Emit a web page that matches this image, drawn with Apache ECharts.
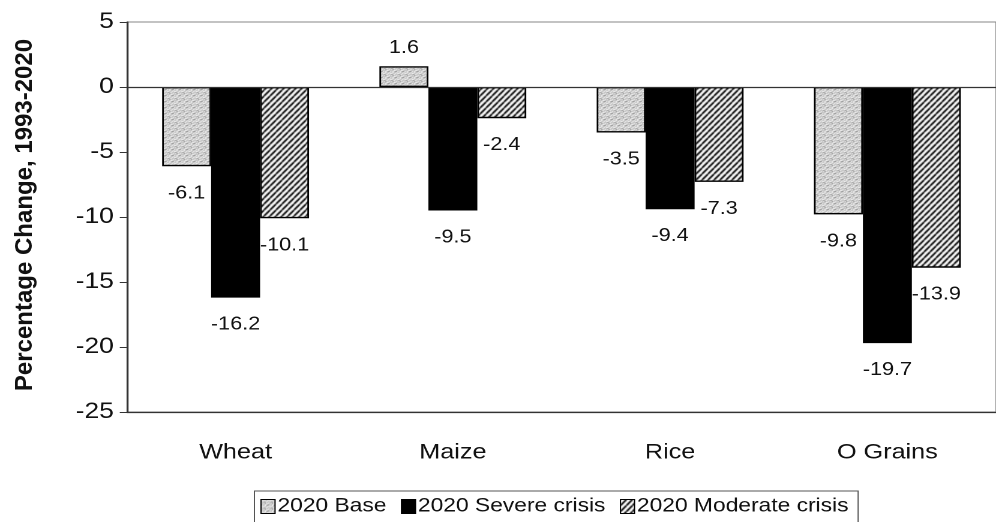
<!DOCTYPE html>
<html>
<head>
<meta charset="utf-8">
<script src="https://cdn.jsdelivr.net/npm/echarts@6/dist/echarts.min.js"></script>
<style>
  html, body { margin: 0; padding: 0; background: #fff; overflow: hidden; }
  /* the chart is laid out narrow and widened, giving the broad lettering */
  #chart { width: 830px; height: 522px; transform: scaleX(1.2); transform-origin: 0 0; }
</style>
</head>
<body>
<div id="chart"></div>
<script>
const categories = ['Wheat', 'Maize', 'Rice', 'O Grains'];
const seriesNames = ['2020 Base', '2020 Severe crisis', '2020 Moderate crisis'];
const baseValues = [-6.1, 1.6, -3.5, -9.8];
const severeValues = [-16.2, -9.5, -9.4, -19.7];
const moderateValues = [-10.1, -2.4, -7.3, -13.9];
const yTicks = [5, 0, -5, -10, -15, -20, -25];
const yTitle = 'Percentage Change, 1993-2020';

const WIDEN = 1.2;

// light grey stipple fill
function stipplePattern() {
  const c = document.createElement('canvas');
  c.width = 6; c.height = 6;
  const g = c.getContext('2d');
  g.fillStyle = '#c2c2c2';
  g.fillRect(0, 0, 6, 6);
  g.fillStyle = '#f6f6f6';
  const dots = [[0,0],[3,0],[1,1],[4,2],[0,3],[2,3],[5,4],[1,5],[3,5],[2,1],[5,1],[4,4]];
  dots.forEach(([x, y]) => g.fillRect(x, y, 1, 1));
  g.fillStyle = '#8e8e8e';
  [[2,2],[5,5],[0,5],[3,3]].forEach(([x, y]) => g.fillRect(x, y, 1, 1));
  return c;
}

// black forward-slash hatch (tile is narrower than tall so it reads 45° once widened)
function hatchPattern() {
  const w = 5, h = 6;
  const c = document.createElement('canvas');
  c.width = w; c.height = h;
  const g = c.getContext('2d');
  g.fillStyle = '#fff';
  g.fillRect(0, 0, w, h);
  g.strokeStyle = '#000';
  g.lineWidth = 1.6;
  g.beginPath();
  for (let k = -1; k <= 1; k++) {
    g.moveTo(k * w, h);
    g.lineTo(k * w + w, 0);
  }
  g.stroke();
  return c;
}

const fills = [
  { image: stipplePattern(), repeat: 'repeat' },
  '#000',
  { image: hatchPattern(), repeat: 'repeat' }
];

const FONT = 'Liberation Sans, Arial, sans-serif';

function makeSeries(name, values, idx) {
  return {
    name: name,
    type: 'bar',
    barWidth: 40.8,
    barGap: '0%',
    itemStyle: { color: fills[idx], borderColor: '#000', borderWidth: 1.4 },
    label: {
      show: true,
      fontFamily: FONT, fontSize: 18, color: '#111',
      formatter: p => p.value.toFixed(1)
    },
    data: values.map(v => ({
      value: v,
      label: { position: v < 0 ? 'bottom' : 'top', distance: v < 0 ? 18 : 9 }
    })),
    markLine: idx === 0 ? {
      silent: true,
      symbol: 'none',
      label: { show: false },
      lineStyle: { color: '#333', width: 1.2, type: 'solid' },
      data: [{ yAxis: 0 }]
    } : undefined
  };
}

const chart = echarts.init(document.getElementById('chart'), null, { devicePixelRatio: 2 });
chart.setOption({
  animation: false,
  backgroundColor: '#fff',
  grid: {
    left: 105.8, top: 22, height: 390, width: 733.3,
    show: true, borderColor: '#888', borderWidth: 1
  },
  // vertical axis title, narrowed back so its letters keep their normal shape
  graphic: [{
    type: 'text',
    x: 20.8,
    y: 215,
    rotation: Math.PI / 2,
    scaleY: 1 / WIDEN,
    style: {
      text: yTitle,
      font: 'bold 24px ' + FONT,
      fill: '#111',
      textAlign: 'center',
      textVerticalAlign: 'middle'
    }
  }],
  legend: {
    left: 212, top: 491,
    padding: [6, 8, 10, 5],
    itemGap: 12,
    itemWidth: 11.7, itemHeight: 14,
    borderColor: '#555', borderWidth: 1,
    icon: 'rect',
    itemStyle: { borderColor: '#000', borderWidth: 1 },
    textStyle: { fontFamily: FONT, fontSize: 19, color: '#111', padding: [0, 0, 0, -3] },
    data: seriesNames
  },
  xAxis: {
    type: 'category',
    data: categories,
    axisLine: { onZero: false, lineStyle: { color: '#333', width: 1.2 } },
    axisTick: { show: false },
    axisLabel: { margin: 30, fontFamily: FONT, fontSize: 21, color: '#111' }
  },
  yAxis: {
    type: 'value',
    min: yTicks[yTicks.length - 1],
    max: yTicks[0],
    interval: 5,
    axisLine: { show: true, lineStyle: { color: '#333', width: 1.2 } },
    axisTick: { show: true, length: 6, lineStyle: { color: '#333' } },
    splitLine: { show: false },
    axisLabel: { margin: 11, fontFamily: FONT, fontSize: 22, color: '#111' }
  },
  series: [
    makeSeries(seriesNames[0], baseValues, 0),
    makeSeries(seriesNames[1], severeValues, 1),
    makeSeries(seriesNames[2], moderateValues, 2)
  ]
});
</script>
</body>
</html>
